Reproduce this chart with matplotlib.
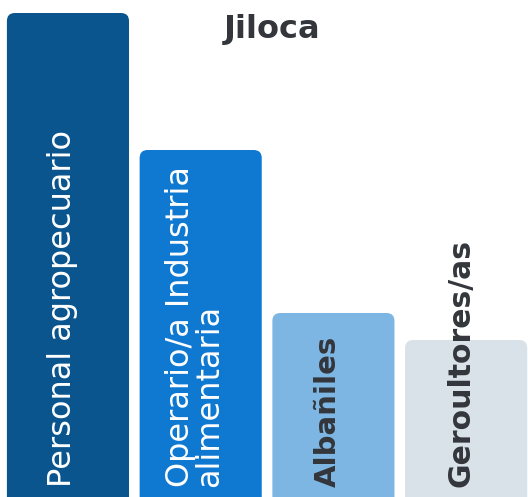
import matplotlib
matplotlib.use("Agg")
import matplotlib.pyplot as plt
from matplotlib.patches import FancyBboxPatch

# data
categories = ["Personal agropecuario", "Operario/a Industria\nalimentaria", "Albañiles", "Geroultores/as"]
values = [48.4, 34.7, 18.4, 15.7]
colors = ["#0b558f", "#0f79d2", "#7db6e3", "#d9e1e9"]
text_colors = ["white", "white", "#33363b", "#33363b"]
text_weights = ["normal", "normal", "bold", "bold"]
text_sizes = [23, 23, 21, 21.5]
title = "Jiloca"

fig = plt.figure(figsize=(5.28, 4.97), dpi=100)
ax = fig.add_axes([0, 0, 1, 1])
ax.set_xlim(-0.512, 3.466)
ax.set_ylim(0, 49.7)
ax.axis("off")

width = 0.92
x_unit_px = 528 / (3.466 + 0.512)
y_unit_px = 497 / 49.7
radius = 8 / x_unit_px
aspect = x_unit_px / y_unit_px

bars = ax.bar(range(len(values)), values, width=width, color="none")
for i, b in enumerate(bars):
    # rounded top corners, bottom pushed below the frame
    patch = FancyBboxPatch((b.get_x(), -2), b.get_width(), b.get_height() + 2,
                           boxstyle=f"round,pad=0,rounding_size={radius}",
                           mutation_aspect=aspect, facecolor=colors[i],
                           edgecolor="none")
    ax.add_patch(patch)
    ax.text(b.get_x() + b.get_width() / 2 - 0.04, 1.0, categories[i], rotation=90,
            ha="left", va="center", rotation_mode="anchor",
            color=text_colors[i], fontsize=text_sizes[i], fontweight=text_weights[i],
            family="DejaVu Sans", linespacing=0.92, multialignment="left")

fig.text(0.515, 0.94, title, ha="center", va="center", fontsize=23,
         fontweight="bold", color="#33363b", family="DejaVu Sans")

fig.savefig("out.png", dpi=100)
